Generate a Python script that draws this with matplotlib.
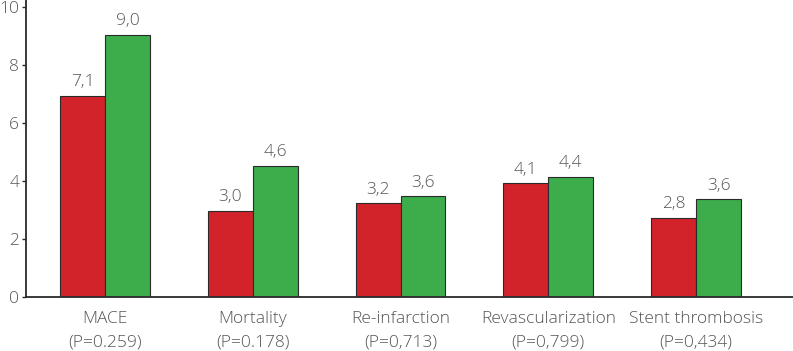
import matplotlib
matplotlib.use("Agg")
import matplotlib.pyplot as plt
import numpy as np

categories = ["MACE", "Mortality", "Re-infarction", "Revascularization", "Stent thrombosis"]
p_values = ["(P=0.259)", "(P=0.178)", "(P=0,713)", "(P=0,799)", "(P=0,434)"]
red_values = [6.94, 2.98, 3.23, 3.92, 2.73]
green_values = [9.04, 4.53, 3.48, 4.14, 3.37]
red_labels = ["7,1", "3,0", "3,2", "4,1", "2,8"]
green_labels = ["9,0", "4,6", "3,6", "4,4", "3,6"]
yticks = [0, 2, 4, 6, 8, 10]

plt.rcParams['font.family'] = ['Open Sans', 'DejaVu Sans']
plt.rcParams['font.weight'] = 'light'
text_color = '#555555'
fs = 12.5

fig = plt.figure(figsize=(7.93, 3.51), dpi=100)
ax = fig.add_axes([26/793, 1 - 297/351, 1 - 26/793, 297/351])

x = np.arange(len(categories))
w = 0.304
ax.bar(x - w/2, red_values, width=w, color='#d2232a', edgecolor='#2a2a2a', linewidth=0.8)
ax.bar(x + w/2, green_values, width=w, color='#3dac4a', edgecolor='#2a2a2a', linewidth=0.8)

for xi, v, lab in zip(x - w/2, red_values, red_labels):
    ax.annotate(lab, (xi, v), xytext=(0, 4), textcoords='offset points',
                ha='center', va='bottom', fontsize=fs, color=text_color, fontweight='light')
for xi, v, lab in zip(x + w/2, green_values, green_labels):
    ax.annotate(lab, (xi, v), xytext=(0, 4), textcoords='offset points',
                ha='center', va='bottom', fontsize=fs, color=text_color, fontweight='light')

ax.set_xlim(-0.534, 4.655)
ax.set_ylim(0, 10.24)
ax.set_yticks(yticks)
ax.set_yticklabels([str(t) for t in yticks], fontsize=fs, color=text_color, fontweight='light')
ax.set_xticks(x)
ax.set_xticklabels([f"{c}\n{p}" for c, p in zip(categories, p_values)],
                   fontsize=fs, color=text_color, linespacing=1.6, fontweight='light')
ax.tick_params(axis='x', length=0, pad=10)
ax.tick_params(axis='y', direction='out', length=3, width=1, color='#2a2a2a', pad=2)
for s in ['top', 'right']:
    ax.spines[s].set_visible(False)
for s in ['left', 'bottom']:
    ax.spines[s].set_color('#2a2a2a')
    ax.spines[s].set_linewidth(1.3)

fig.savefig("out.png", dpi=100)
